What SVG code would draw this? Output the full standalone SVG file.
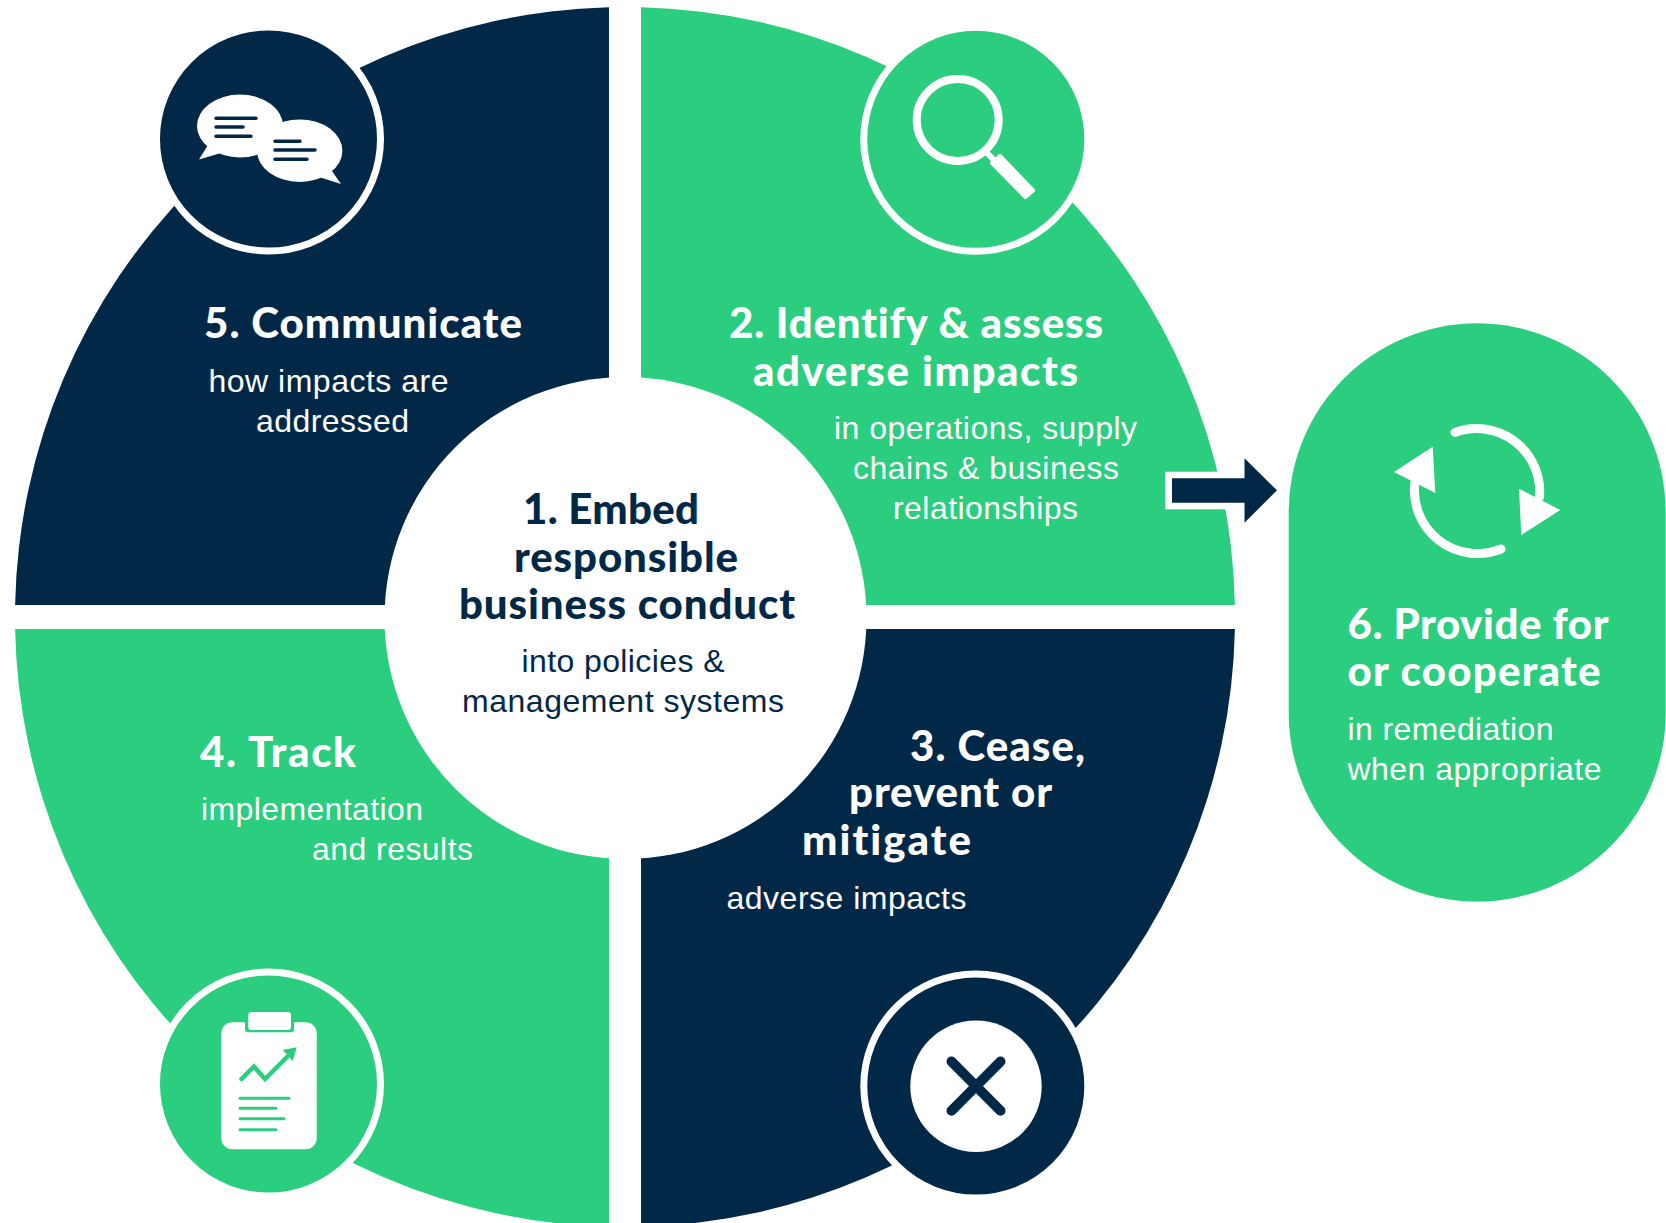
<svg xmlns="http://www.w3.org/2000/svg" width="1666" height="1223" viewBox="0 0 1666 1223">
<style>
.g{fill:#2bcd7f}.n{fill:#022847}.w{fill:#fff}
.h{font-family:"Lato","Liberation Sans",sans-serif;font-weight:900;font-size:42px;font-variant-ligatures:none}
.b{font-family:"Liberation Sans",Arial,sans-serif;font-size:32px}
.tw{fill:#fff}.tn{fill:#022847}
.ln{fill:none;stroke-linecap:round;stroke-width:3.5}
.ring{stroke:#fff;stroke-width:7}
</style>
<rect width="1666" height="1223" fill="#fff"/>
<g id="node-5">
<path class="n" d="M609 7.2A610 610 0 0 0 15.1 605H609Z"/>
<circle class="n ring" cx="268.5" cy="139" r="112"/>
<g class="w">
<ellipse cx="240" cy="126" rx="43" ry="31.5"/>
<path d="M208 145L199 159.500L221 153Z"/>
<ellipse cx="299.700" cy="150.700" rx="42.700" ry="31.300"/>
<path d="M332 171L341 184L319 177Z"/>
</g>
<path class="ln" stroke="#022847" d="M216 118.300H256M216 127H243M216 136.300H251M275 141.300H300M275 150H315M275 159.300H307"/>
<text class="h tw" x="204" y="338.300" textLength="318">5. Communicate</text>
<text class="b tw" x="208.500" y="392" textLength="240">how impacts are</text>
<text class="b tw" x="256" y="432" textLength="153">addressed</text>
</g>
<g id="node-2">
<path class="g" d="M641 7.2A610 610 0 0 1 1234.9 605H641Z"/>
<circle class="g ring" cx="975.800" cy="139.300" r="112"/>
<circle cx="957.700" cy="120" r="41" fill="none" stroke="#fff" stroke-width="8"/>
<path d="M986 152L997 163" stroke="#fff" stroke-width="6" fill="none"/>
<path class="w" d="M992 163L1000 156L1033 190.500L1025.500 197Z" stroke="#fff" stroke-width="4" stroke-linejoin="round"/>
<text class="h tw" x="729" y="338.300" textLength="374">2. Identify &amp; assess</text>
<text class="h tw" x="753" y="386" textLength="325">adverse impacts</text>
<text class="b tw" x="834" y="439" textLength="303">in operations, supply</text>
<text class="b tw" x="853" y="479" textLength="266">chains &amp; business</text>
<text class="b tw" x="893" y="518.500" textLength="185">relationships</text>
</g>
<g id="node-3">
<path class="n" d="M641 629H1234.900A610 610 0 0 1 641 1226.800Z"/>
<circle class="n ring" cx="975.800" cy="1086" r="112"/>
<circle class="w" cx="976" cy="1086.300" r="65.700"/>
<path d="M951.500 1061.500L1000.500 1110.700M1000.500 1061.500L951.500 1110.700" stroke="#022847" stroke-width="10" stroke-linecap="round" fill="none"/>
<text class="h tw" x="910" y="760.700" textLength="175">3. Cease,</text>
<text class="h tw" x="849" y="807.300" textLength="203">prevent or</text>
<text class="h tw" x="802" y="855" textLength="169">mitigate</text>
<text class="b tw" x="726.500" y="909.300" textLength="240">adverse impacts</text>
</g>
<g id="node-4">
<path class="g" d="M15.100 629H609V1226.800A610 610 0 0 1 15.100 629Z"/>
<circle class="g ring" cx="268.500" cy="1084" r="112"/>
<rect class="w" x="221.300" y="1022.300" width="95.400" height="127" rx="11"/>
<rect class="g" x="245" y="1020" width="49" height="12.300" rx="3"/>
<rect class="w" x="248.300" y="1012" width="42.700" height="18" rx="3"/>
<path d="M241.500 1079L254 1066.500L265 1079L287 1057" fill="none" stroke="#2bcd7f" stroke-width="4.500" stroke-linecap="round"/>
<path class="g" d="M296.700 1047.300L282.700 1050L292.700 1061Z"/>
<path class="ln" stroke="#2bcd7f" style="stroke-width:3" d="M240 1098.300H289M240 1108.300H276M240 1118.700H284M240 1129.700H276"/>
<text class="h tw" x="200" y="766.700" textLength="156">4. Track</text>
<text class="b tw" x="201" y="820" textLength="222">implementation</text>
<text class="b tw" x="312" y="859.500" textLength="161">and results</text>
</g>
<g id="node-1">
<circle class="w" cx="625.500" cy="618" r="241"/>
<text class="h tn" x="523" y="524.300" textLength="176">1. Embed</text>
<text class="h tn" x="514" y="572" textLength="224">responsible</text>
<text class="h tn" x="459" y="619.300" textLength="336">business conduct</text>
<text class="b tn" x="521.500" y="672.300" textLength="203">into policies &amp;</text>
<text class="b tn" x="462" y="712.300" textLength="322">management systems</text>
</g>
<g id="connectors">
<rect class="w" x="1165.300" y="471.700" width="80" height="37.600"/>
<path class="n" d="M1172 478.300H1244.500V458.300L1277 490.300L1244.500 522.700V502.700H1172Z"/>
</g>
<g id="node-6">
<rect class="g" x="1288.700" y="323.300" width="377" height="578.200" rx="188.500"/>
<g fill="none" stroke="#fff" stroke-width="9" stroke-linecap="round">
<path d="M1455 432.500A63 63 0 0 1 1539.500 497"/>
<path d="M1501 549A63 63 0 0 1 1415 482"/>
</g>
<path class="w" d="M1394 472L1432.700 446.700L1435.300 493Z"/>
<path class="w" d="M1519 488.700L1560.300 510L1521.300 535Z"/>
<text class="h tw" x="1347.500" y="639.300" textLength="261">6. Provide for</text>
<text class="h tw" x="1347.500" y="686" textLength="253">or cooperate</text>
<text class="b tw" x="1347.500" y="740" textLength="206">in remediation</text>
<text class="b tw" x="1347.500" y="780" textLength="254">when appropriate</text>
</g>
</svg>
